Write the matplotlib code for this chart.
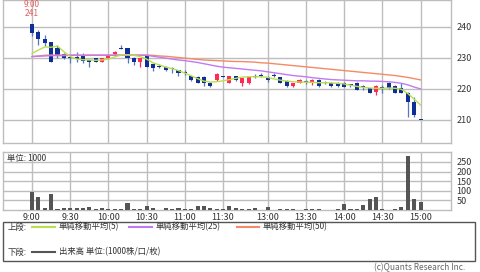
import matplotlib
matplotlib.use("Agg")
import matplotlib.pyplot as plt
from matplotlib.lines import Line2D
from matplotlib.patches import Rectangle
import numpy as np

plt.rcParams['font.family'] = ['Noto Sans CJK JP', 'DejaVu Sans']

# ---- data (5-minute candles, 9:00 .. 15:00) ----
opens = [241, 238.2, 236, 235.2, 233.1, 231.1, 230.2, 230.4, 230.9, 229.3,
         229.8, 228.8, 229.8, 231.1, 233.1, 233.0, 229.8, 228.7, 230.9, 228.0,
         227.5, 227.1, 226.5, 226.0, 225.3, 224.1, 223.9, 223.7, 222.0, 222.9,
         224.0, 222.0, 224.0, 221.8, 221.8, 223.9, 224.1, 223.9, 224.2, 223.7,
         222.6, 220.9, 222.0, 222.3, 222.0, 222.9, 222.0, 222.0, 222.0, 222.0,
         221.2, 222.0, 220.5, 220.2, 219.0, 220.2, 222.0, 220.9, 220.2, 218.8,
         215.9, 210.0]
highs = [241, 239.0, 237.3, 235.2, 234.0, 231.5, 230.4, 232.0, 231.4, 229.6,
         230.0, 230.0, 231.1, 232.2, 234.2, 233.3, 230.3, 230.0, 230.9, 228.2,
         228.0, 227.4, 227.1, 226.2, 226.1, 224.3, 224.1, 224.0, 222.2, 225.0,
         224.2, 224.2, 224.3, 223.6, 224.1, 224.8, 225.0, 224.1, 225.0, 223.9,
         223.0, 222.0, 223.1, 222.8, 223.1, 223.1, 222.4, 222.2, 222.2, 222.3,
         221.6, 222.2, 221.2, 220.4, 221.1, 221.4, 222.2, 221.1, 222.0, 219.0,
         217.5, 210.0]
lows = [237.0, 234.0, 233.8, 228.5, 229.8, 229.6, 228.2, 228.7, 228.4, 227.0,
        228.6, 228.6, 229.6, 231.0, 232.9, 228.2, 227.7, 227.1, 227.1, 225.9,
        226.8, 225.7, 225.0, 224.0, 224.5, 222.7, 221.8, 221.0, 220.7, 222.7,
        223.7, 221.8, 222.7, 221.0, 221.6, 223.5, 223.7, 222.2, 223.8, 221.8,
        220.7, 220.7, 221.8, 221.6, 221.2, 220.7, 221.6, 220.7, 220.7, 220.5,
        220.6, 219.6, 219.8, 218.6, 218.0, 218.8, 220.0, 218.6, 218.6, 210.9,
        210.9, 210.0]
closes = [238.0, 235.9, 234.9, 228.7, 230.7, 230.0, 230.1, 229.5, 229.1, 228.8,
          228.8, 229.8, 230.9, 232.0, 232.9, 230.1, 228.7, 229.8, 227.1, 226.6,
          227.1, 226.0, 226.3, 225.0, 225.1, 222.9, 222.0, 222.0, 220.9, 224.8,
          223.9, 224.0, 222.9, 223.4, 223.9, 223.9, 224.1, 222.9, 224.2, 222.0,
          220.9, 221.8, 222.9, 222.3, 222.9, 220.9, 222.0, 220.9, 220.9, 220.7,
          221.2, 219.8, 220.5, 218.8, 220.9, 220.2, 220.2, 218.8, 218.8, 215.9,
          211.6, 210.0]
ma5 = [231.4, 232.5, 233.5, 233.4, 233.8, 232.0, 230.4, 229.6, 229.4, 229.3,
       229.2, 229.3, 229.6, 230.3, 230.9, 231.0, 230.8, 230.4, 229.6, 228.4,
       227.7, 227.0, 226.5, 225.9, 225.1, 224.2, 223.3, 222.5, 222.2, 222.3,
       222.6, 223.0, 223.4, 223.8, 223.9, 223.9, 223.9, 223.7, 223.2, 222.8,
       222.5, 222.3, 222.2, 222.2, 222.1, 222.0, 222.0, 221.9, 221.8, 221.6,
       221.2, 220.8, 220.5, 220.3, 220.2, 220.2, 220.3, 220.2, 219.9, 218.5,
       216.7, 214.8]
ma25 = [230.4, 230.5, 230.6, 230.7, 230.7, 230.7, 230.8, 230.8, 230.8, 230.8,
        230.8, 230.8, 230.8, 230.8, 230.8, 230.8, 230.8, 230.8, 230.8, 230.5,
        230.2, 229.9, 229.6, 229.3, 229.1, 228.8, 228.5, 228.1, 227.7, 227.3,
        227.0, 226.8, 226.6, 226.4, 226.2, 226.0, 225.8, 225.5, 225.2, 224.9,
        224.6, 224.3, 224.1, 223.9, 223.6, 223.4, 223.2, 223.0, 222.9, 222.8,
        222.7, 222.6, 222.6, 222.5, 222.5, 222.4, 222.3, 222.1, 221.8, 221.3,
        220.6, 220.0]
ma50 = [230.4, 230.6, 230.8, 230.9, 230.9, 230.9, 230.9, 230.9, 230.9, 230.9,
        230.9, 230.9, 230.9, 230.9, 230.9, 230.9, 230.9, 230.9, 230.9, 230.8,
        230.6, 230.5, 230.3, 230.1, 229.9, 229.7, 229.5, 229.3, 229.2, 229.1,
        229.0, 228.9, 228.8, 228.8, 228.7, 228.6, 228.4, 228.3, 228.1, 227.9,
        227.7, 227.5, 227.3, 227.1, 226.9, 226.7, 226.5, 226.3, 226.1, 225.9,
        225.7, 225.5, 225.3, 225.1, 224.9, 224.7, 224.5, 224.3, 224.0, 223.7,
        223.3, 222.9]
volume = [93, 67, 10, 81, 5, 12, 10, 7, 7, 15,
          4, 7, 4, 3, 4, 34, 6, 6, 21, 7,
          1, 7, 6, 7, 6, 6, 21, 21, 7, 2,
          2, 21, 7, 4, 6, 8, 1, 15, 1, 5,
          5, 2, 1, 5, 5, 5, 1, 1, 5, 29,
          3, 3, 26, 56, 65, 3, 1, 5, 15, 281,
          59, 40]
tick_pos = [0, 6, 12, 18, 24, 30, 37, 43, 49, 55, 61]
tick_labels = ["9:00", "9:30", "10:00", "10:30", "11:00", "11:30",
               "13:00", "13:30", "14:00", "14:30", "15:00"]
price_ticks = [210, 220, 230, 240]
vol_ticks = [50, 100, 150, 200, 250]

W, H = 480, 272
fig = plt.figure(figsize=(W / 100, H / 100), dpi=100)

def fx(x):
    return x / W

def fy(y):
    return 1 - y / H

grid_c = '#bdbdbd'
txt_c = '#333333'
up_c = '#ff2a55'
dn_c = '#0d2f96'
dn_wick = '#5577c4'

x = np.arange(len(opens))
xlim = (-4.55, 65.78)

# ---- upper panel ----
ax = fig.add_axes([fx(3), fy(143), (451 - 3) / W, 143 / H])
ax.set_xlim(*xlim)
ax.set_ylim(202.6, 248.6)
for t in tick_pos:
    ax.axvline(t, color=grid_c, lw=1.0, zorder=0)
for p in price_ticks:
    ax.axhline(p, color=grid_c, lw=1.0, zorder=0)

o = np.array(opens); c = np.array(closes)
hi = np.array(highs); lo = np.array(lows)
up = c > o
colors = np.where(up, up_c, dn_c)
wick_colors = np.where(up, up_c, dn_wick)
ax.vlines(x, lo, hi, colors=wick_colors, lw=0.9, zorder=2)
body_bot = np.minimum(o, c)
body_h = np.maximum(np.abs(c - o), 0.3)
ax.bar(x, body_h, bottom=body_bot, width=0.64, color=colors, zorder=3, linewidth=0)

ax.plot(x, ma50, color='#f58a66', lw=1.0, zorder=4)
ax.plot(x, ma25, color='#c27af2', lw=1.0, zorder=4)
ax.plot(x, ma5, color='#b9e04c', lw=1.0, zorder=4)

ax.text(0, 247.2, "9:00", color='#e06060', fontsize=6, ha='center', va='center')
ax.text(0, 244.4, "241", color='#e06060', fontsize=6, ha='center', va='center')

ax.yaxis.tick_right()
ax.set_yticks(price_ticks)
ax.set_yticklabels([str(p) for p in price_ticks], fontsize=6.5, color=txt_c)
ax.tick_params(axis='y', length=0, pad=4)
ax.set_xticks([])
for s in ax.spines.values():
    s.set_color(grid_c)
    s.set_linewidth(1.0)

# ---- lower panel ----
bx = fig.add_axes([fx(3), fy(209.8), (451 - 3) / W, (209.8 - 152) / H])
bx.set_xlim(*xlim)
bx.set_ylim(0, 302)
for t in tick_pos:
    bx.axvline(t, color=grid_c, lw=1.0, zorder=0)
for v in vol_ticks:
    bx.axhline(v, color=grid_c, lw=1.0, zorder=0)
bx.bar(x, volume, width=0.64, color='#555555', zorder=3, linewidth=0)
bx.yaxis.tick_right()
bx.set_yticks(vol_ticks)
bx.set_yticklabels([str(v) for v in vol_ticks], fontsize=6.5, color=txt_c)
bx.tick_params(axis='y', length=0, pad=4)
bx.set_xticks(tick_pos)
bx.set_xticklabels(tick_labels, fontsize=6.5, color=txt_c)
bx.tick_params(axis='x', length=0, pad=2)
for s in bx.spines.values():
    s.set_color(grid_c)
    s.set_linewidth(1.0)
bx.text(0.01, 0.88, "単位: 1000", transform=bx.transAxes, fontsize=6,
        color=txt_c, ha='left', va='center')

# ---- legend box ----
fig.patches.append(Rectangle((fx(3), fy(261)), 472 / W, 39 / H, transform=fig.transFigure,
                             fill=False, edgecolor='#555555', lw=1.0))
fs = 6
fig.text(fx(8), fy(227), "上段:", fontsize=fs, color=txt_c, va='center', ha='left')
legend_items = [(32, 55, '#b9e04c', "単純移動平均(5)"),
                (129, 152, '#c27af2', "単純移動平均(25)"),
                (237, 259, '#f58a66', "単純移動平均(50)")]
for x0, x1, col, lab in legend_items:
    fig.add_artist(Line2D([fx(x0), fx(x1)], [fy(227), fy(227)], color=col, lw=1.5,
                          transform=fig.transFigure))
    fig.text(fx(x1 + 4), fy(227), lab, fontsize=fs, color=txt_c, va='center', ha='left')
fig.text(fx(8), fy(252), "下段:", fontsize=fs, color=txt_c, va='center', ha='left')
fig.add_artist(Line2D([fx(32), fx(55)], [fy(252), fy(252)], color='#555555', lw=1.5,
                      transform=fig.transFigure))
fig.text(fx(59), fy(252), "出来高 単位:(1000株/口/枚)", fontsize=fs, color=txt_c,
         va='center', ha='left')

fig.text(fx(465), fy(268), "(c)Quants Research Inc.", fontsize=6, color='#666666',
         va='center', ha='right')

fig.savefig("out.png", dpi=100)
